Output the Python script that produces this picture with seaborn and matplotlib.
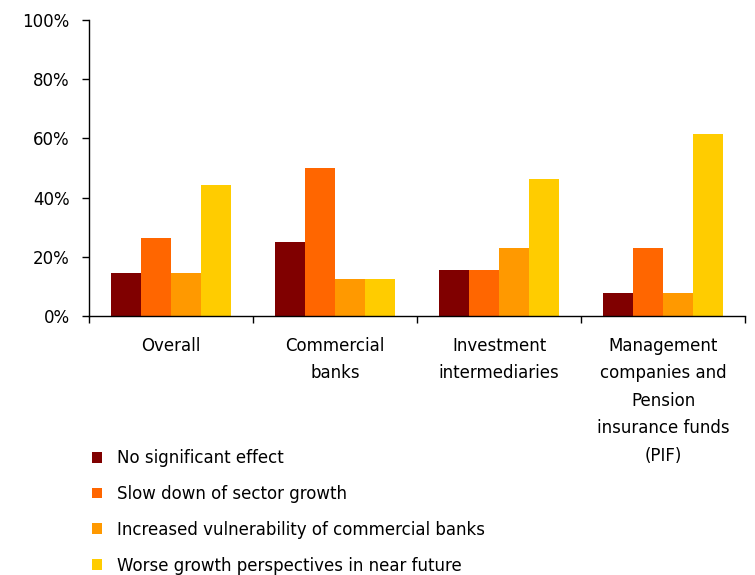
import matplotlib
matplotlib.use("Agg")
import matplotlib.pyplot as plt
from matplotlib.patches import Patch
from matplotlib.ticker import FuncFormatter, FixedLocator
import seaborn as sns
import pandas as pd

categories = ["Overall", "Commercial\nbanks", "Investment\nintermediaries",
              "Management\ncompanies and\nPension\ninsurance funds\n(PIF)"]
effects = ["No significant effect", "Slow down of sector growth",
           "Increased vulnerability of commercial banks",
           "Worse growth perspectives in near future"]
no_effect = [14.7, 25.0, 15.4, 7.7]
slow_down = [26.5, 50.0, 15.4, 23.1]
vulnerability = [14.7, 12.5, 23.1, 7.7]
worse_growth = [44.1, 12.5, 46.2, 61.5]
colors = ["#800000", "#FF6600", "#FF9900", "#FFCC00"]
y_ticks = [0, 20, 40, 60, 80, 100]

series = [no_effect, slow_down, vulnerability, worse_growth]
rows = []
for eff, vals in zip(effects, series):
    for cat, v in zip(categories, vals):
        rows.append({"category": cat, "effect": eff, "value": v})
df = pd.DataFrame(rows)

sns.set_style("white")
plt.rcParams["font.family"] = ["DejaVu Sans"]
plt.rcParams["text.color"] = "black"
plt.rcParams["xtick.color"] = "black"
plt.rcParams["ytick.color"] = "black"

FS = 12

fig = plt.figure(figsize=(7.55, 5.75), dpi=100)
ax = fig.add_axes([0.1179, 0.4504, 0.8689, 0.5148])

sns.barplot(data=df, x="category", y="value", hue="effect", order=categories,
            hue_order=effects, palette=colors, width=0.73, saturation=1,
            linewidth=0, edgecolor="none", ax=ax, legend=False)

ax.set_ylim(0, 100)
ax.set_xlim(-0.5, len(categories) - 0.5)
ax.yaxis.set_major_locator(FixedLocator(y_ticks))
ax.yaxis.set_major_formatter(FuncFormatter(lambda v, p: f"{int(v)}%"))
ax.set_xlabel("")
ax.set_ylabel("")

for s in ["top", "right"]:
    ax.spines[s].set_visible(False)
for s in ["left", "bottom"]:
    ax.spines[s].set_color("black")
    ax.spines[s].set_linewidth(1.0)

ax.tick_params(axis="y", direction="out", length=5, width=1, color="black",
               labelsize=FS, labelcolor="black", pad=9, left=True)
ax.set_xticks(range(len(categories)))
ax.set_xticklabels(categories, fontsize=FS, linespacing=1.68, va="top",
                   color="black")
ax.tick_params(axis="x", which="major", length=0, pad=15)
ax.set_xticks([i - 0.5 for i in range(len(categories) + 1)], minor=True)
ax.tick_params(axis="x", which="minor", direction="out", length=5, width=1,
               color="black", bottom=True)

handles = [Patch(facecolor=c, edgecolor="none") for c in colors]
leg = fig.legend(handles, effects, loc="upper left",
                 bbox_to_anchor=(0.122, 0.219), frameon=False, fontsize=FS,
                 handlelength=0.62, handleheight=0.62, handletextpad=0.9,
                 labelspacing=1.07, borderaxespad=0, borderpad=0)
for t in leg.get_texts():
    t.set_color("black")

fig.savefig("out.png", dpi=100, facecolor="white")
